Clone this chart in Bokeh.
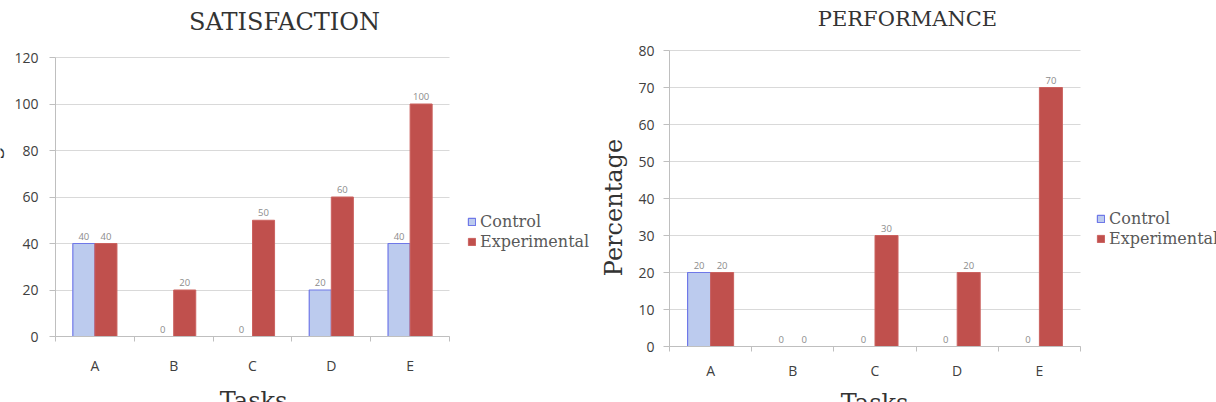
import math
from bokeh.plotting import figure
from bokeh.layouts import row
from bokeh.models import (ColumnDataSource, Range1d, FixedTicker, Label, Legend, LegendItem)
from bokeh.transform import dodge
from bokeh.embed import file_html
from bokeh.resources import INLINE

# ---------------- data ----------------
tasks = ["A", "B", "C", "D", "E"]
sat_control = [40, 0, 0, 20, 40]
sat_experimental = [40, 20, 50, 60, 100]
perf_control = [20, 0, 0, 0, 0]
perf_experimental = [20, 0, 30, 20, 70]
sat_ticks = [0, 20, 40, 60, 80, 100, 120]
perf_ticks = [0, 10, 20, 30, 40, 50, 60, 70, 80]

SERIF = "DejaVu Serif"
SANS = "Open Sans"
CTRL_FILL = "#bccbee"
CTRL_LINE = "#6f78e8"
EXP_FILL = "#c0504d"
EXP_LINE = "#cb625f"
AXIS_C = "#bfbfbf"
GRID_C = "#d9d9d9"
H = 402


def make_chart(title, ctrl, exp, ticks, W, frame, title_pos, title_size,
               ylab_pos, xlab_pos, legend_pos, xlabel_standoff, ylabel_standoff):
    n = len(tasks)
    ymax = ticks[-1]
    fx0, fx1, fy_top, fy_bot = frame          # plot-area pixels (left, right, top, bottom)
    ppx = (fx1 - fx0) / n
    ppy = (fy_bot - fy_top) / ymax
    xr = Range1d(-0.5 - fx0 / ppx, n - 0.5 + (W - fx1) / ppx)
    yr = Range1d(-(H - fy_bot) / ppy, ymax + fy_top / ppy)

    idx = list(range(n))
    src = ColumnDataSource(dict(
        x=idx, ctrl=ctrl, exp=exp,
        ctrl_lbl=[str(v) for v in ctrl], exp_lbl=[str(v) for v in exp],
        ctrl_la=[1.0 if v > 0 else 0.0 for v in ctrl],
        exp_la=[1.0 if v > 0 else 0.0 for v in exp],
    ))
    p = figure(x_range=xr, y_range=yr, width=W, height=H, title=None,
               output_backend="svg", toolbar_location=None,
               min_border_left=0, min_border_right=0, min_border_top=0, min_border_bottom=0)
    p.outline_line_color = None
    p.background_fill_color = "white"
    p.border_fill_color = "white"

    # grid
    p.xgrid.visible = False
    p.ygrid.ticker = FixedTicker(ticks=ticks)
    p.ygrid.grid_line_color = GRID_C
    p.ygrid.cross_bounds = (-0.5, n - 0.5)

    rc = p.vbar(x=dodge("x", -0.14), top="ctrl", width=0.28, source=src,
                fill_color=CTRL_FILL, line_color=CTRL_LINE, line_width=1.2, line_alpha="ctrl_la")
    re = p.vbar(x=dodge("x", 0.14), top="exp", width=0.28, source=src,
                fill_color=EXP_FILL, line_color=EXP_LINE, line_width=1, line_alpha="exp_la")

    p.text(x=dodge("x", -0.14), y="ctrl", text="ctrl_lbl", source=src,
           text_align="center", text_baseline="bottom", y_offset=-4,
           text_font_size="9.5px", text_color="#8c8c8c", text_font={"value": SANS})
    p.text(x=dodge("x", 0.14), y="exp", text="exp_lbl", source=src,
           text_align="center", text_baseline="bottom", y_offset=-4,
           text_font_size="9.5px", text_color="#8c8c8c", text_font={"value": SANS})

    # axes
    xa = p.xaxis[0]
    xa.fixed_location = 0
    xa.bounds = (-0.5, n - 0.5)
    xa.ticker = FixedTicker(ticks=idx, minor_ticks=[i - 0.5 for i in range(n + 1)])
    xa.major_label_overrides = {i: t for i, t in enumerate(tasks)}
    xa.major_tick_out = 0
    xa.major_tick_in = 0
    xa.minor_tick_out = 5
    xa.minor_tick_in = 0
    xa.minor_tick_line_color = AXIS_C
    xa.major_label_standoff = xlabel_standoff

    ya = p.yaxis[0]
    ya.fixed_location = -0.5
    ya.bounds = (0, ymax)
    ya.ticker = FixedTicker(ticks=ticks)
    ya.major_tick_out = 6
    ya.major_tick_in = 0
    ya.minor_tick_line_color = None
    ya.major_tick_line_color = AXIS_C
    ya.major_label_standoff = ylabel_standoff

    for ax in (xa, ya):
        ax.axis_line_color = AXIS_C
        ax.major_label_text_font = SANS
        ax.major_label_text_font_size = "14px"
        ax.major_label_text_color = "#404040"

    # texts
    p.add_layout(Label(x=title_pos[0], y=H - title_pos[1], x_units="screen", y_units="screen",
                       text=title, text_align="center", text_baseline="alphabetic",
                       text_font=SERIF, text_font_size=title_size, text_color="#333333"))
    p.add_layout(Label(x=ylab_pos[0], y=H - ylab_pos[1], x_units="screen", y_units="screen",
                       text="Percentage", angle=math.pi / 2, text_align="center",
                       text_baseline="alphabetic", text_font=SERIF, text_font_size="24px",
                       text_color="#333333"))
    p.add_layout(Label(x=xlab_pos[0], y=H - xlab_pos[1], x_units="screen", y_units="screen",
                       text="Tasks", text_align="center", text_baseline="alphabetic",
                       text_font=SERIF, text_font_size="24px", text_color="#333333"))

    legend = Legend(items=[LegendItem(label="Control", renderers=[rc]),
                           LegendItem(label="Experimental", renderers=[re])],
                    location=(legend_pos[0], H - legend_pos[1]), orientation="vertical",
                    glyph_width=9, glyph_height=9, label_standoff=4, spacing=0,
                    padding=0, margin=0, border_line_color=None, background_fill_alpha=0,
                    label_text_font=SERIF, label_text_font_size="16px",
                    label_text_color="#595959", label_height=20)
    p.add_layout(legend, "center")
    return p


p1 = make_chart("SATISFACTION", sat_control, sat_experimental, sat_ticks,
                600, (55, 449, 57, 336), (284, 21.5), "24px",
                (-10, 199), (253, 400.5), (467, 251), 14, 11)
p2 = make_chart("PERFORMANCE", perf_control, perf_experimental, perf_ticks,
                616, (69, 480, 50, 346), (307, 18.3), "21px",
                (13, 207), (274, 402.5), (496, 248), 9, 9)

layout = row(p1, p2)
open("out.html", "w").write(file_html(layout, INLINE))
